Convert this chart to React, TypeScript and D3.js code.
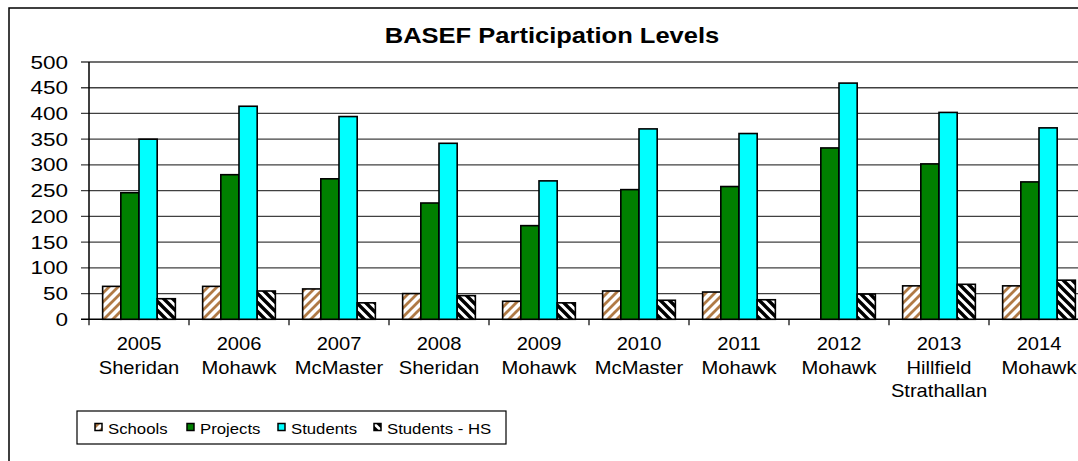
import React from 'react';
import * as d3 from 'd3';

const years = ['2005', '2006', '2007', '2008', '2009', '2010', '2011', '2012', '2013', '2014'];
const hosts = [['Sheridan'], ['Mohawk'], ['McMaster'], ['Sheridan'], ['Mohawk'], ['McMaster'], ['Mohawk'], ['Mohawk'], ['Hillfield', 'Strathallan'], ['Mohawk']];
const schools = [64, 64, 59, 50, 35, 55, 53, 0, 65, 65];
const projects = [246, 281, 273, 226, 182, 252, 258, 333, 302, 267];
const students = [350, 414, 394, 342, 269, 370, 361, 459, 402, 372];
const studentsHS = [40, 55, 32, 46, 32, 37, 38, 49, 68, 76];
const seriesNames = ['Schools', 'Projects', 'Students', 'Students - HS'];
const yTicks = [0, 50, 100, 150, 200, 250, 300, 350, 400, 450, 500];

const seriesData = [schools, projects, students, studentsHS];
const fills = ['url(#patSchools)', '#008000', '#00ffff', 'url(#patHS)'];

const FONT = '"Liberation Sans", Arial, sans-serif';

export default function App() {
  const left = 89, right = 1089, top = 62, bottom = 319.3;
  const x = d3.scaleBand<string>().domain(years).range([left, right]).padding(0);
  const step = x.step();
  const inner = d3.scaleBand<number>().domain([0, 1, 2, 3])
    .range([step * 0.75 / 5.5, step * 4.75 / 5.5]).padding(0);
  const y = d3.scaleLinear().domain([0, 500]).range([bottom, top]);

  const legendX = [95, 187, 278, 374];
  const P = 9;

  return (
    <svg width={1078} height={461} style={{ position: 'absolute', left: 0, top: 0, background: '#fff' }}>
      <defs>
        <pattern id="patSchools" patternUnits="userSpaceOnUse" width={P} height={P}>
          <rect width={P} height={P} fill="#fff" />
          <path d={`M-2,${P + 2} L${P + 2},-2 M-2,2 L2,-2 M${P - 2},${P + 2} L${P + 2},${P - 2}`} stroke="#b07a45" strokeWidth={2.8} />
        </pattern>
        <pattern id="patHS" patternUnits="userSpaceOnUse" width={P} height={P}>
          <rect width={P} height={P} fill="#fff" />
          <path d={`M-2,-2 L${P + 2},${P + 2} M${P - 2},-2 L${P + 2},2 M-2,${P - 2} L2,${P + 2}`} stroke="#000" strokeWidth={3.4} />
        </pattern>
      </defs>
      <rect x={9} y={8} width={1100} height={520} fill="#fff" stroke="#000" strokeWidth={1.5} />

      {/* title */}
      <text transform="translate(552,43) scale(1.16,1)" textAnchor="middle" fontFamily={FONT}
        fontWeight="bold" fontSize={22} fill="#000">BASEF Participation Levels</text>

      {/* gridlines */}
      {yTicks.map((t) => (
        <line key={'g' + t} x1={81} x2={right} y1={y(t)} y2={y(t)}
          stroke={t === 0 ? '#000' : '#404040'} strokeWidth={t === 0 ? 1.5 : 1.3} />
      ))}
      {yTicks.map((t) => (
        <text key={'yl' + t} transform={`translate(68,${y(t) + 6.5}) scale(1.25,1)`} textAnchor="end"
          fontFamily={FONT} fontSize={18} fill="#000">{t}</text>
      ))}
      <line x1={left} x2={left} y1={top} y2={bottom} stroke="#000" strokeWidth={1.5} />

      {/* category ticks */}
      {years.map((yr) => (
        <line key={'t' + yr} x1={x(yr)!} x2={x(yr)!} y1={bottom} y2={bottom + 6} stroke="#000" strokeWidth={1.2} />
      ))}

      {/* bars */}
      {years.map((yr, i) => (
        <g key={'b' + yr}>
          {seriesData.map((s, k) => s[i] > 0 ? (
            <rect key={k} x={x(yr)! + inner(k)!} y={y(s[i])} width={inner.bandwidth()} height={bottom - y(s[i])}
              fill={fills[k]} stroke="#000" strokeWidth={1.6} />
          ) : null)}
        </g>
      ))}

      {/* x labels */}
      {years.map((yr, i) => {
        const cx = x(yr)! + step / 2;
        const lines = [yr, ...hosts[i]];
        return lines.map((ln, j) => (
          <text key={yr + j} transform={`translate(${cx},${350 + j * 23.5}) scale(1.15,1)`} textAnchor="middle"
            fontFamily={FONT} fontSize={17.5} fill="#000">{ln}</text>
        ));
      })}

      {/* legend */}
      <rect x={77} y={411} width={429} height={33} fill="#fff" stroke="#000" strokeWidth={1.2} />
      {seriesNames.map((n, k) => (
        <g key={n}>
          <rect x={legendX[k]} y={423.5} width={7} height={7} fill={fills[k]} stroke="#000" strokeWidth={1.5} />
          <text transform={`translate(${legendX[k] + 13},434) scale(1.08,1)`} fontFamily={FONT}
            fontSize={15.5} fill="#000">{n}</text>
        </g>
      ))}
    </svg>
  );
}
